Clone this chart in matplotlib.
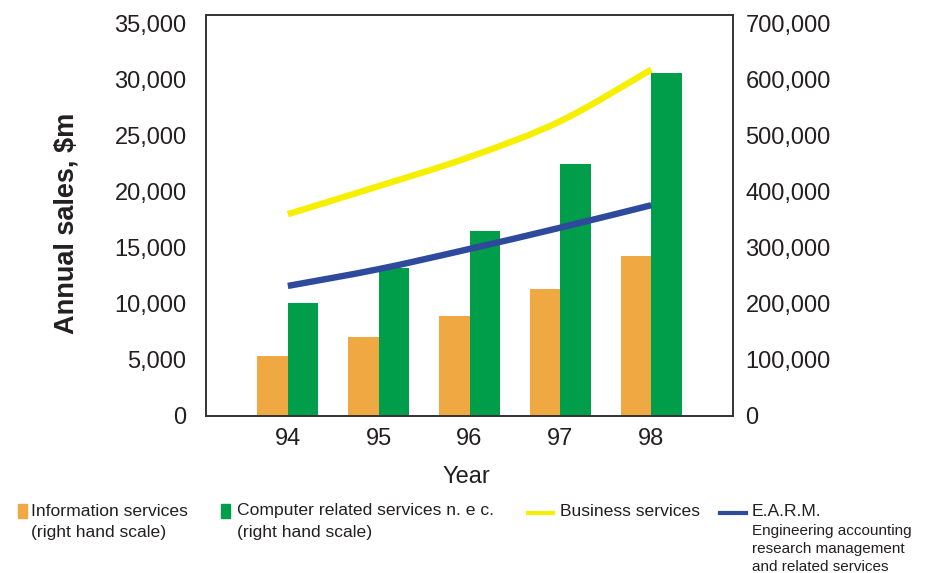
import numpy as np
import matplotlib.pyplot as plt
from matplotlib.patches import Rectangle, PathPatch
from matplotlib.path import Path
from matplotlib.lines import Line2D

plt.rcParams['font.family'] = ['Liberation Sans', 'DejaVu Sans']

# annual sales by year
years = ['94', '95', '96', '97', '98']
info_services = [107000, 141000, 179000, 227000, 286000]        # right hand scale
computer_services = [202000, 264000, 330000, 450000, 612000]    # right hand scale
business_services = [18000, 20500, 23100, 26300, 30900]         # left hand scale
earm = [11600, 13100, 14900, 16800, 18800]                      # left hand scale

left_ticks = [0, 5000, 10000, 15000, 20000, 25000, 30000, 35000]
right_ticks = [0, 100000, 200000, 300000, 400000, 500000, 600000, 700000]

c_info = '#F0A843'
c_comp = '#009D4B'
c_bus = '#F6F000'
c_earm = '#2D4A9C'
c_text = '#231F20'


def smooth_path(xs, ys):
    # cubic bezier segments through the points (catmull-rom tangents)
    xs = np.asarray(xs, float)
    ys = np.asarray(ys, float)
    n = len(xs)
    verts = [(xs[0], ys[0])]
    codes = [Path.MOVETO]
    for i in range(n - 1):
        i0, i3 = max(i - 1, 0), min(i + 2, n - 1)
        t1 = ((xs[i + 1] - xs[i0]) / 6, (ys[i + 1] - ys[i0]) / 6)
        t2 = ((xs[i3] - xs[i]) / 6, (ys[i3] - ys[i]) / 6)
        verts += [(xs[i] + t1[0], ys[i] + t1[1]),
                  (xs[i + 1] - t2[0], ys[i + 1] - t2[1]),
                  (xs[i + 1], ys[i + 1])]
        codes += [Path.CURVE4] * 3
    return Path(verts, codes)


fig = plt.figure(figsize=(9.26, 5.73), dpi=100)
ax = fig.add_axes([0.2225, 0.274, 0.5691, 0.7005])
ax2 = ax.twinx()

x = np.arange(len(years))
w = 0.335

ax2.bar(x - w / 2, info_services, width=w, color=c_info, zorder=1)
ax2.bar(x + w / 2, computer_services, width=w, color=c_comp, zorder=1)

# lines go on top of the bars
ax.set_zorder(ax2.get_zorder() + 1)
ax.patch.set_visible(False)
for vals, col in ((business_services, c_bus), (earm, c_earm)):
    ax.add_patch(PathPatch(smooth_path(x, vals), facecolor='none', edgecolor=col,
                           lw=4.6, capstyle='butt'))

ax.set_xlim(-0.9, 4.9)
ax.set_ylim(0, 35800)
ax2.set_ylim(0, 716000)

ax.set_xticks(x)
ax.set_xticklabels(years)
ax.set_yticks(left_ticks)
ax.set_yticklabels([f'{v:,}' for v in left_ticks])
ax2.set_yticks(right_ticks)
ax2.set_yticklabels([f'{v:,}' for v in right_ticks])

ax.tick_params(axis='y', length=0, pad=14, labelsize=17, labelcolor=c_text)
ax.tick_params(axis='x', length=0, pad=9, labelsize=17, labelcolor=c_text)
ax2.tick_params(axis='y', length=0, pad=9, labelsize=17, labelcolor=c_text)

for a in (ax, ax2):
    for s in a.spines.values():
        s.set_color('#333333')
        s.set_linewidth(1.2)

W, H = 926, 573


def fx(px):
    return px / W


def fy(py):
    return 1 - py / H


fig.text(fx(67), fy(223), 'Annual sales, $m', rotation=90, fontsize=19.5,
         fontweight='bold', color=c_text, ha='center', va='center')
fig.text(fx(466), fy(477), 'Year', fontsize=17, color=c_text, ha='center', va='center')

# legend row along the bottom
fig.patches.append(Rectangle((fx(18), fy(518)), 9 / W, 14 / H, color=c_info,
                             transform=fig.transFigure))
fig.patches.append(Rectangle((fx(221), fy(518)), 9 / W, 14 / H, color=c_comp,
                             transform=fig.transFigure))
fig.lines.append(Line2D([fx(528), fx(553)], [fy(513), fy(513)], color=c_bus, lw=3,
                        transform=fig.transFigure))
fig.lines.append(Line2D([fx(720), fx(746)], [fy(513), fy(513)], color=c_earm, lw=3,
                        transform=fig.transFigure))

lg = dict(fontsize=12.6, color=c_text, va='center', ha='left')
fig.text(fx(31), fy(511), 'Information services', **lg)
fig.text(fx(31), fy(532), '(right hand scale)', **lg)
fig.text(fx(237), fy(511), 'Computer related services n. e c.', **lg)
fig.text(fx(237), fy(532), '(right hand scale)', **lg)
fig.text(fx(560), fy(511), 'Business services', **lg)
fig.text(fx(752), fy(511), 'E.A.R.M.', **lg)
sm = dict(fontsize=11, color=c_text, va='center', ha='left')
fig.text(fx(752), fy(531), 'Engineering accounting', **sm)
fig.text(fx(752), fy(549), 'research management', **sm)
fig.text(fx(752), fy(567), 'and related services', **sm)

fig.savefig('out.png', dpi=100)
